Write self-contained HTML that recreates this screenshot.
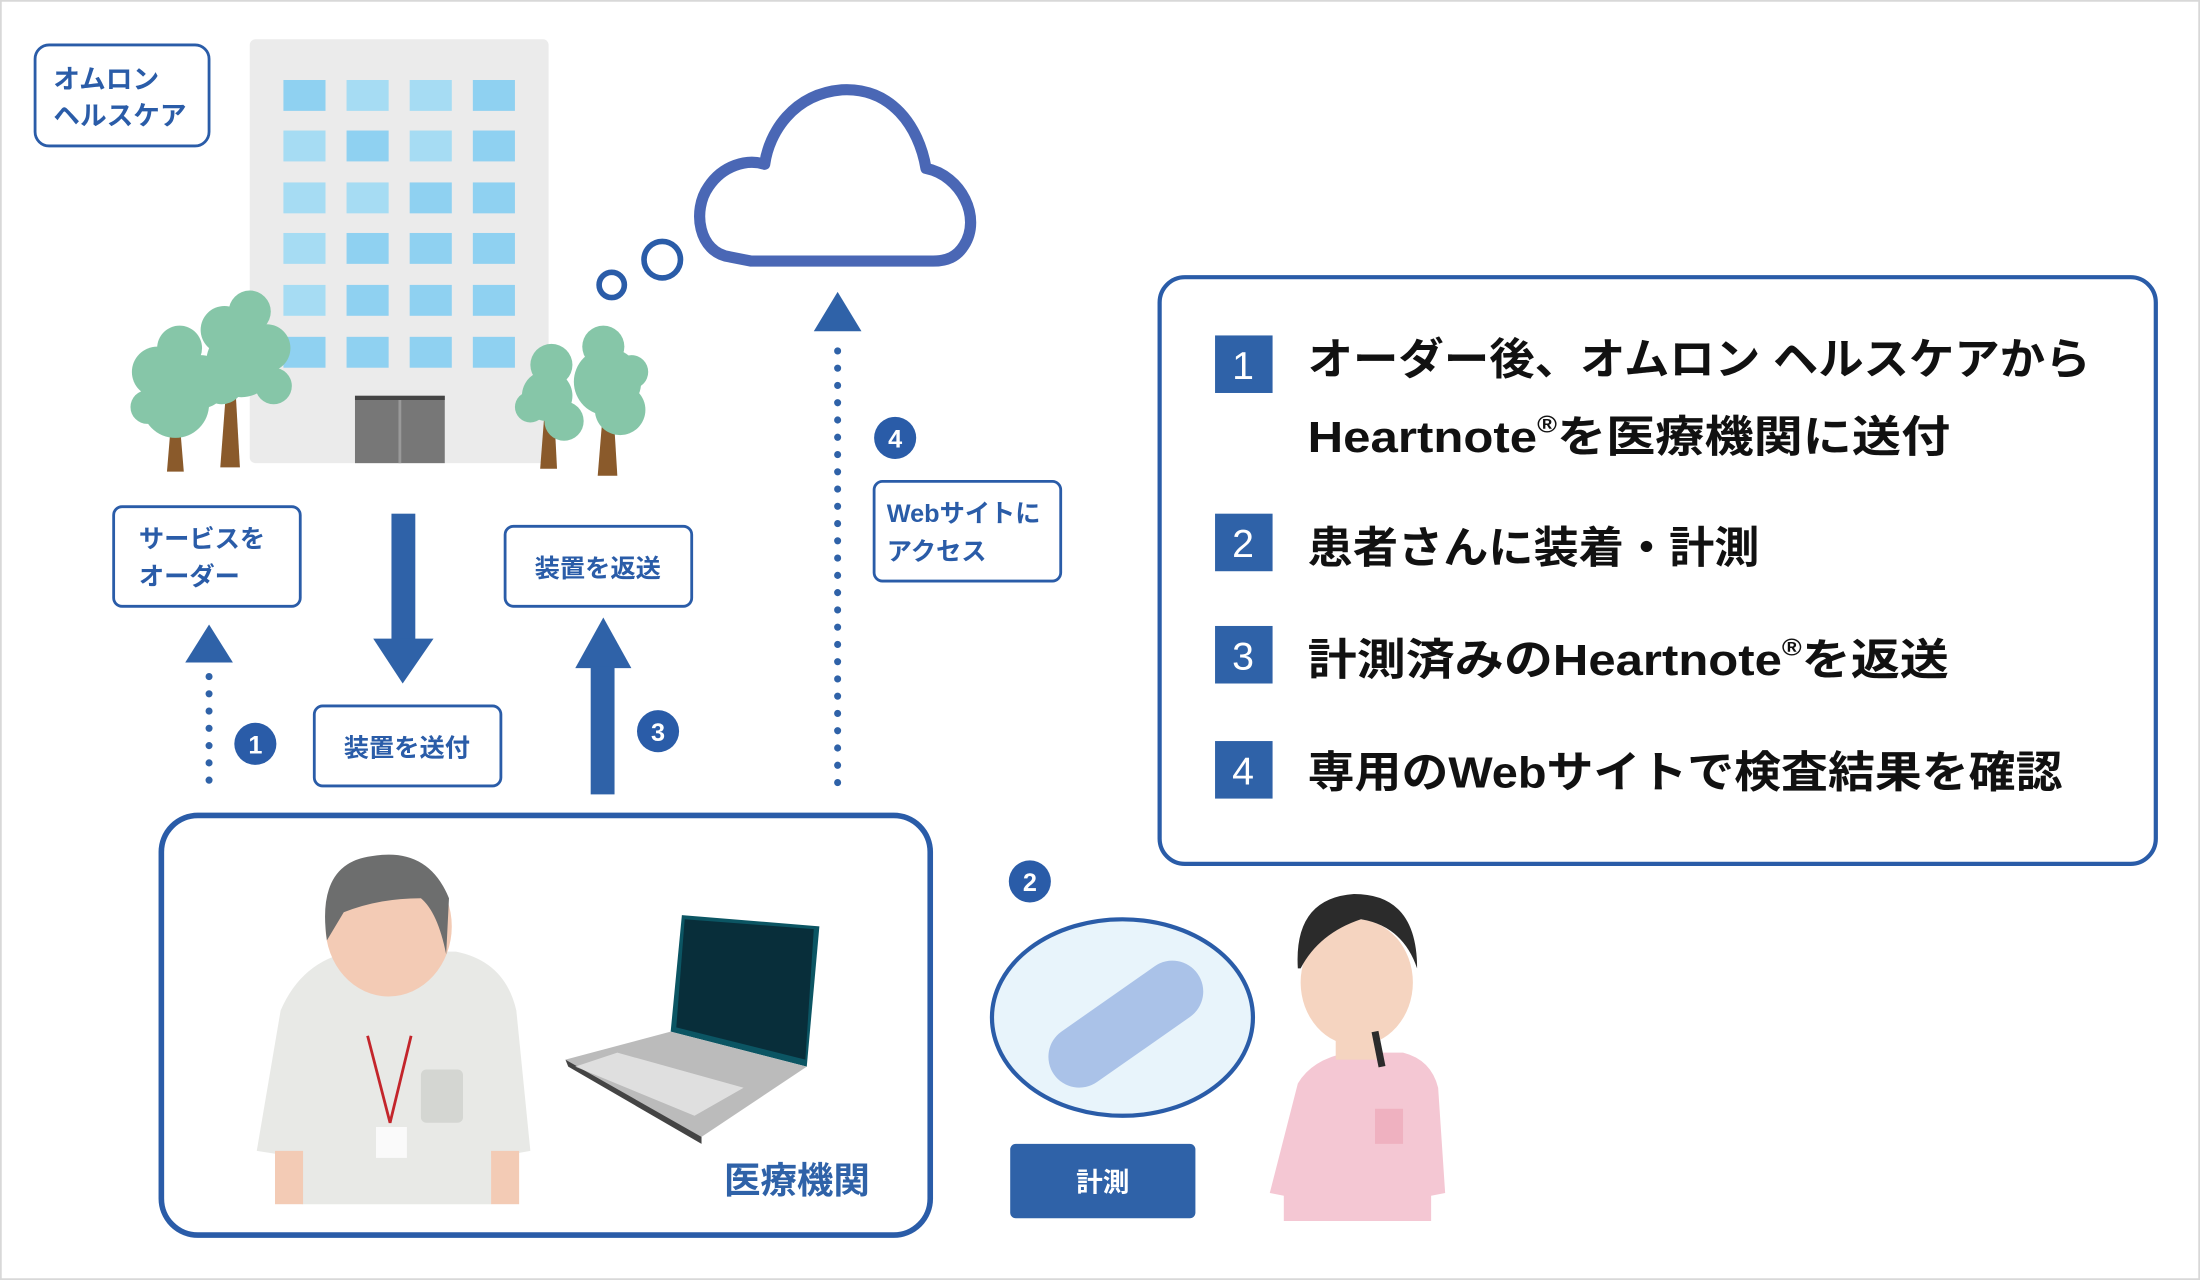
<!DOCTYPE html>
<html><head><meta charset="utf-8"><style>
html,body{margin:0;padding:0;background:#fff;}
svg{display:block;}
text{font-family:"Liberation Sans","Noto Sans CJK JP",sans-serif;font-weight:bold;}
</style></head><body>
<svg width="2200" height="1280" viewBox="0 0 1568 912" preserveAspectRatio="none" xmlns="http://www.w3.org/2000/svg">
<rect x="0.5" y="0.5" width="1567" height="911" fill="#fff" stroke="#d8d8d8" stroke-width="1.5"/>
<!-- Omron label -->
<rect x="25" y="32" width="124" height="72" rx="10" fill="#fff" stroke="#2a5ca8" stroke-width="2"/>
<text x="38" y="63" font-size="19" fill="#2a5ca8">オムロン</text>
<text x="38" y="89" font-size="19" fill="#2a5ca8">ヘルスケア</text>
<!-- building -->
<rect x="178" y="28" width="213" height="302" rx="4" fill="#ebebeb"/>
<g fill="#8fd1f1">
<rect x="202" y="57" width="30" height="22"/><rect x="247" y="57" width="30" height="22" fill="#a6dcf3"/><rect x="292" y="57" width="30" height="22" fill="#a6dcf3"/><rect x="337" y="57" width="30" height="22"/>
<rect x="202" y="93" width="30" height="22" fill="#a6dcf3"/><rect x="247" y="93" width="30" height="22"/><rect x="292" y="93" width="30" height="22" fill="#a6dcf3"/><rect x="337" y="93" width="30" height="22"/>
<rect x="202" y="130" width="30" height="22" fill="#a6dcf3"/><rect x="247" y="130" width="30" height="22" fill="#a6dcf3"/><rect x="292" y="130" width="30" height="22"/><rect x="337" y="130" width="30" height="22"/>
<rect x="202" y="166" width="30" height="22" fill="#a6dcf3"/><rect x="247" y="166" width="30" height="22"/><rect x="292" y="166" width="30" height="22"/><rect x="337" y="166" width="30" height="22"/>
<rect x="202" y="203" width="30" height="22" fill="#a6dcf3"/><rect x="247" y="203" width="30" height="22"/><rect x="292" y="203" width="30" height="22"/><rect x="337" y="203" width="30" height="22"/>
<rect x="202" y="240" width="30" height="22"/><rect x="247" y="240" width="30" height="22"/><rect x="292" y="240" width="30" height="22"/><rect x="337" y="240" width="30" height="22"/>
</g>
<rect x="253" y="282" width="64" height="48" fill="#777"/><rect x="253" y="282" width="64" height="3" fill="#444"/><rect x="284" y="285" width="2" height="45" fill="#999"/>
<!-- trees -->
<g fill="#8a5a2b">
<polygon points="119,336 131,336 128,300 122,300"/><polygon points="157,333 171,333 168,280 161,280"/>
<polygon points="385,334 397,334 395,295 388,295"/><polygon points="426,339 440,339 437,290 430,290"/>
</g>
<g fill="#86c6a8">
<circle cx="125" cy="288" r="24"/><circle cx="112" cy="265" r="18"/><circle cx="128" cy="248" r="16"/><circle cx="143" cy="272" r="19"/><circle cx="105" cy="290" r="12"/>
<circle cx="172" cy="258" r="25"/><circle cx="160" cy="235" r="17"/><circle cx="178" cy="222" r="15"/><circle cx="190" cy="248" r="17"/><circle cx="158" cy="272" r="16"/><circle cx="195" cy="275" r="13"/>
<circle cx="390" cy="282" r="18"/><circle cx="393" cy="260" r="15"/><circle cx="402" cy="300" r="14"/><circle cx="378" cy="290" r="11"/>
<circle cx="433" cy="272" r="24"/><circle cx="430" cy="247" r="15"/><circle cx="442" cy="292" r="18"/><circle cx="450" cy="265" r="12"/>
</g>
<!-- cloud -->
<path d="M520,183 C498,180 493,150 505,133 C515,118 532,113 545,117 C548,95 565,67 600,64 C635,62 655,90 660,120 C685,125 700,155 687,175 C682,183 675,186 665,186 L535,186 Z" fill="#fff" stroke="#4a67b5" stroke-width="8" stroke-linejoin="round"/>
<circle cx="472" cy="185" r="13" fill="none" stroke="#2a5ca8" stroke-width="4"/>
<circle cx="436" cy="203" r="9" fill="none" stroke="#2a5ca8" stroke-width="4"/>
<!-- arrow 4 -->
<polygon points="597,208 614,236 580,236" fill="#2f62a8"/>
<line x1="597" y1="250" x2="597" y2="566" stroke="#2f62a8" stroke-width="5" stroke-linecap="round" stroke-dasharray="0.1 12.2"/>
<circle cx="638" cy="312" r="15" fill="#2a5ca8"/><text x="638" y="319" font-size="18" fill="#fff" text-anchor="middle">4</text>
<rect x="623" y="343" width="133" height="71" rx="6" fill="#fff" stroke="#2a5ca8" stroke-width="2"/>
<text x="632" y="372" font-size="18" fill="#2a5ca8">Webサイトに</text>
<text x="632" y="399" font-size="18" fill="#2a5ca8">アクセス</text>
<!-- service order -->
<rect x="81" y="361" width="133" height="71" rx="6" fill="#fff" stroke="#2a5ca8" stroke-width="2"/>
<text x="99" y="390" font-size="18" fill="#2a5ca8">サービスを</text>
<text x="99" y="417" font-size="18" fill="#2a5ca8">オーダー</text>
<polygon points="149,445 166,472 132,472" fill="#2f62a8"/>
<line x1="149" y1="482" x2="149" y2="560" stroke="#2f62a8" stroke-width="5" stroke-linecap="round" stroke-dasharray="0.1 12.2"/>
<circle cx="182" cy="530" r="15" fill="#2a5ca8"/><text x="182" y="537" font-size="18" fill="#fff" text-anchor="middle">1</text>
<!-- down arrow -->
<rect x="279" y="366" width="17" height="90" fill="#2f62a8"/>
<polygon points="266,455 309,455 287,487" fill="#2f62a8"/>
<rect x="224" y="503" width="133" height="57" rx="6" fill="#fff" stroke="#2a5ca8" stroke-width="2"/>
<text x="290" y="539" font-size="18" fill="#2a5ca8" text-anchor="middle">装置を送付</text>
<!-- return -->
<rect x="360" y="375" width="133" height="57" rx="6" fill="#fff" stroke="#2a5ca8" stroke-width="2"/>
<text x="426" y="411" font-size="18" fill="#2a5ca8" text-anchor="middle">装置を返送</text>
<polygon points="430,440 450,476 410,476" fill="#2f62a8"/>
<rect x="421" y="475" width="17" height="91" fill="#2f62a8"/>
<circle cx="469" cy="521" r="15" fill="#2a5ca8"/><text x="469" y="528" font-size="18" fill="#fff" text-anchor="middle">3</text>
<!-- medical box -->
<rect x="115" y="581" width="548" height="299" rx="26" fill="#fff" stroke="#2a5ca8" stroke-width="4"/>
<text x="516" y="850" font-size="26" fill="#2f62a8">医療機関</text>
<!-- doctor -->
<path d="M200,720 Q215,685 250,678 L325,678 Q360,685 368,720 L378,820 L350,825 L350,858 L215,858 L215,825 L183,820 Z" fill="#e8e9e6"/>
<rect x="196" y="820" width="20" height="38" fill="#f3cbb5"/><rect x="350" y="820" width="20" height="38" fill="#f3cbb5"/>
<rect x="262" y="660" width="40" height="30" fill="#f3cbb5"/>
<ellipse cx="278" cy="665" rx="22" ry="6" fill="#ddd"/>
<ellipse cx="277" cy="660" rx="45" ry="50" fill="#f3cbb5"/>
<path d="M233,670 Q225,615 265,610 Q305,603 320,640 L318,680 Q312,650 300,640 Q270,640 245,650 Z" fill="#6d6e6e"/>
<path d="M262,738 L278,800 L293,738" fill="none" stroke="#c3252b" stroke-width="2"/>
<rect x="268" y="803" width="22" height="22" fill="#fafafa"/>
<rect x="300" y="762" width="30" height="38" rx="4" fill="#d4d6d2"/>
<!-- laptop -->
<polygon points="486,652 584,660 575,760 478,735" fill="#0b5563"/>
<polygon points="488,655 580,662 574,755 482,732" fill="#082e3a"/>
<polygon points="478,735 575,760 500,810 403,755" fill="#bbb"/>
<polygon points="403,755 500,810 500,815 405,760" fill="#444"/>
<polygon points="440,750 530,775 495,795 410,760" fill="#e8e8e8" opacity="0.8"/>
<!-- 2 -->
<circle cx="734" cy="628" r="15" fill="#2a5ca8"/><text x="734" y="635" font-size="18" fill="#fff" text-anchor="middle">2</text>
<ellipse cx="800" cy="725" rx="93" ry="70" fill="#e8f4fb" stroke="#2a5ca8" stroke-width="3"/>
<rect x="740" y="708" width="125" height="44" rx="22" fill="#aac2e8" transform="rotate(-35 802 730)"/>
<rect x="720" y="815" width="132" height="53" rx="4" fill="#2f62a8"/>
<text x="786" y="849" font-size="19" fill="#fff" text-anchor="middle">計測</text>
<!-- patient -->
<path d="M925,772 Q935,755 960,750 L1000,750 Q1020,755 1025,775 L1030,850 L1020,852 L1020,870 L915,870 L915,852 L905,850 Z" fill="#f4c7d3"/>
<rect x="980" y="790" width="20" height="25" fill="#efb1c0"/>
<rect x="952" y="730" width="30" height="25" fill="#f5d4c0"/>
<ellipse cx="967" cy="700" rx="40" ry="45" fill="#f5d4c0"/>
<path d="M925,690 Q922,640 965,637 Q1010,637 1010,690 Q1000,660 970,655 Q940,665 927,690 Z" fill="#2b2b2b"/>
<path d="M980,735 L985,760" stroke="#2b2b2b" stroke-width="5"/>
<!-- right box -->
<rect x="826.5" y="197.5" width="710" height="418" rx="18" fill="#fff" stroke="#2a5ca8" stroke-width="3"/>
<g fill="#2f62a8">
<rect x="866" y="239" width="41" height="41"/><rect x="866" y="366" width="41" height="41"/><rect x="866" y="446" width="41" height="41"/><rect x="866" y="528" width="41" height="41"/>
</g>
<g font-size="28" fill="#fff" text-anchor="middle">
<text x="886" y="270" style="font-weight:normal">1</text><text x="886" y="397" style="font-weight:normal">2</text><text x="886" y="477" style="font-weight:normal">3</text><text x="886" y="559" style="font-weight:normal">4</text>
</g>
<g font-size="31" fill="#111">
<text x="932" y="267" textLength="558" lengthAdjust="spacingAndGlyphs">オーダー後、オムロン ヘルスケアから</text>
<text x="932" y="322" textLength="458" lengthAdjust="spacingAndGlyphs">Heartnote<tspan font-size="17" dy="-14">®</tspan><tspan dy="14">を医療機関に送付</tspan></text>
<text x="932" y="401" textLength="322" lengthAdjust="spacingAndGlyphs">患者さんに装着・計測</text>
<text x="932" y="481" textLength="457" lengthAdjust="spacingAndGlyphs">計測済みのHeartnote<tspan font-size="17" dy="-14">®</tspan><tspan dy="14">を返送</tspan></text>
<text x="932" y="561" textLength="538" lengthAdjust="spacingAndGlyphs">専用のWebサイトで検査結果を確認</text>
</g>
</svg>
</body></html>
